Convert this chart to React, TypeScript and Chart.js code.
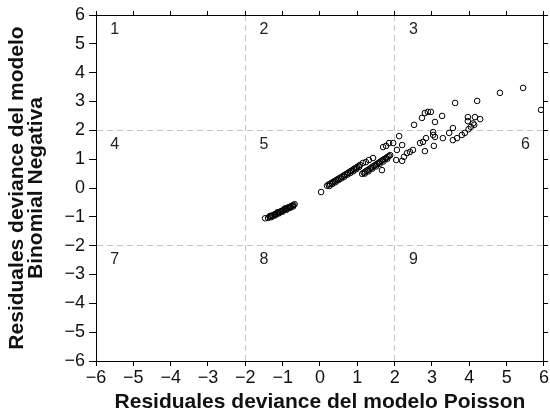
import React, { useEffect, useRef } from "react";
import { Chart, registerables } from "chart.js";

Chart.register(...registerables);

// Cluster of negative residuals
const clusterA: [number, number][] = [
  [-1.47, -1.05], [-1.39, -1.04], [-1.35, -1.0], [-1.31, -0.98], [-1.28, -0.95],
  [-1.25, -0.95], [-1.22, -0.92], [-1.19, -0.9], [-1.16, -0.89], [-1.13, -0.86],
  [-1.1, -0.85], [-1.07, -0.83], [-1.04, -0.8], [-1.01, -0.79], [-0.98, -0.77],
  [-0.95, -0.74], [-0.92, -0.73], [-0.89, -0.71], [-0.86, -0.68], [-0.83, -0.67],
  [-0.8, -0.65], [-0.77, -0.63], [-0.74, -0.61], [-0.71, -0.59], [-0.68, -0.56],
  [-1.3, -1.01], [-1.2, -0.95], [-1.1, -0.88], [-1.0, -0.82], [-0.9, -0.76],
  [-0.8, -0.69], [-0.72, -0.64], [-1.34, -0.97], [-1.14, -0.84], [-0.94, -0.71],
];

// Upper line of small positive residuals
const clusterB: [number, number][] = [
  [0.03, -0.14], [0.19, 0.08], [0.23, 0.12], [0.27, 0.14], [0.31, 0.18], [0.35, 0.2],
  [0.39, 0.24], [0.43, 0.27], [0.47, 0.3], [0.51, 0.33], [0.55, 0.36], [0.59, 0.39],
  [0.63, 0.43], [0.67, 0.46], [0.71, 0.49], [0.75, 0.52], [0.79, 0.56], [0.83, 0.59],
  [0.87, 0.62], [0.91, 0.66], [0.95, 0.69], [0.99, 0.72], [1.03, 0.76], [1.07, 0.8],
  [0.25, 0.07], [0.33, 0.14], [0.41, 0.2], [0.49, 0.27], [0.57, 0.33], [0.65, 0.39],
  [0.73, 0.46], [0.81, 0.52], [0.89, 0.58], [0.97, 0.65], [1.05, 0.73],
  [1.15, 0.87], [1.23, 0.9], [1.31, 0.97], [1.42, 1.04],
];

// Lower parallel line
const clusterC: [number, number][] = [
  [1.13, 0.49], [1.17, 0.53], [1.21, 0.56], [1.25, 0.6], [1.29, 0.63], [1.33, 0.67],
  [1.37, 0.7], [1.41, 0.74], [1.45, 0.77], [1.49, 0.8], [1.53, 0.84], [1.57, 0.87],
  [1.61, 0.91], [1.65, 0.94], [1.69, 0.98], [1.73, 1.01], [1.77, 1.04], [1.81, 1.08],
  [1.85, 1.11], [1.88, 1.14], [1.2, 0.5], [1.3, 0.58], [1.4, 0.67], [1.5, 0.75],
  [1.6, 0.84], [1.7, 0.92], [1.8, 1.01], [1.66, 0.62],
];

// Scattered larger residuals
const scatterD: [number, number][] = [
  [1.69, 1.42], [1.77, 1.46], [1.85, 1.56], [1.96, 1.56], [2.12, 1.8], [2.06, 1.32],
  [2.2, 1.49], [2.04, 0.97], [2.2, 0.94], [2.25, 1.08], [2.33, 1.21], [2.41, 1.25],
  [2.49, 1.32], [2.52, 2.19], [2.68, 1.56], [2.76, 1.6], [2.73, 2.43], [2.81, 2.6],
  [2.89, 2.64], [2.97, 2.64], [2.81, 1.28], [2.84, 1.73], [3.03, 1.94], [3.03, 1.84],
  [3.08, 1.77], [3.08, 2.29], [3.05, 1.46], [3.27, 2.5], [3.29, 1.73], [3.46, 1.91],
  [3.56, 1.66], [3.56, 2.08], [3.62, 2.95], [3.67, 1.73], [3.8, 1.84], [3.88, 1.91],
  [3.96, 2.46], [3.96, 2.32], [4.04, 2.12], [4.13, 2.19], [4.15, 2.46], [4.29, 2.39],
  [4.21, 3.02], [4.82, 3.3], [5.44, 3.47], [5.92, 2.71], [3.98, 2.04], [4.1, 2.24],
];

const axisTicks = [-6, -5, -4, -3, -2, -1, 0, 1, 2, 3, 4, 5, 6];
const cutLines = [-2, 2];

const quadrantLabels = ["1", "2", "3", "4", "5", "6", "7", "8", "9"];
const quadrantX = [-5.5, -1.5, 2.5, -5.5, -1.5, 5.5, -5.5, -1.5, 2.5];
const quadrantY = [5.5, 5.5, 5.5, 1.5, 1.5, 1.5, -2.5, -2.5, -2.5];

const xTitle = "Residuales deviance del modelo Poisson";
const yTitle = ["Residuales deviance del modelo", "Binomial Negativa"];

const FONT = "'Liberation Sans', Arial, Helvetica, sans-serif";

const fmt = (v: number | string) => {
  const n = Number(v);
  return n < 0 ? "\u2212" + Math.abs(n) : String(n);
};

const gridColor = (ctx: any) =>
  ctx.tick && cutLines.includes(ctx.tick.value) ? "#c4c4c4" : "rgba(0,0,0,0)";

const quadrantPlugin = {
  id: "quadrantLabels",
  afterDatasetsDraw(chart: any) {
    const { ctx, scales } = chart;
    ctx.save();
    ctx.font = `16px ${FONT}`;
    ctx.fillStyle = "#222";
    ctx.textAlign = "center";
    ctx.textBaseline = "middle";
    quadrantLabels.forEach((t, i) => {
      ctx.fillText(
        t,
        scales.x.getPixelForValue(quadrantX[i]),
        scales.y.getPixelForValue(quadrantY[i])
      );
    });
    ctx.restore();
  },
};

export default function App() {
  const ref = useRef<HTMLCanvasElement | null>(null);

  useEffect(() => {
    if (!ref.current) return;
    const allPoints = [...clusterA, ...clusterB, ...clusterC, ...scatterD];
    const chart = new Chart(ref.current, {
      type: "scatter",
      data: {
        datasets: [
          {
            data: allPoints.map(([x, y]) => ({ x, y })),
            xAxisID: "x",
            yAxisID: "y",
            pointRadius: 2.8,
            pointBorderWidth: 1,
            pointBorderColor: "#000",
            pointBackgroundColor: "rgba(0,0,0,0)",
            pointHoverRadius: 2.8,
          },
        ],
      },
      options: {
        animation: false,
        responsive: false,
        events: [],
        layout: { padding: 0, autoPadding: false },
        plugins: {
          legend: { display: false },
          tooltip: { enabled: false },
          title: { display: false },
        },
        scales: {
          x: {
            type: "linear",
            position: "bottom",
            min: -6,
            max: 6,
            afterBuildTicks: (s: any) => {
              s.ticks = axisTicks.map((v) => ({ value: v }));
            },
            afterFit: (s: any) => {
              s.height = 58;
            },
            ticks: {
              callback: fmt,
              font: { size: 18, family: FONT },
              color: "#111",
              padding: 1,
              maxRotation: 0,
              autoSkip: false,
            },
            grid: {
              color: gridColor,
              lineWidth: 1,
              tickColor: "#000",
              tickLength: 5,
              tickWidth: 1,
            },
            border: { display: true, color: "#000", width: 1, dash: [6, 4] },
            title: {
              display: true,
              text: xTitle,
              font: { size: 21, weight: "bold", family: FONT, lineHeight: 1 },
              color: "#111",
              padding: { top: 0, bottom: 6 },
            },
          },
          x2: {
            type: "linear",
            position: "top",
            min: -6,
            max: 6,
            afterBuildTicks: (s: any) => {
              s.ticks = axisTicks.map((v) => ({ value: v }));
            },
            afterFit: (s: any) => {
              s.height = 15;
            },
            ticks: { display: false },
            grid: {
              drawOnChartArea: false,
              color: "#000",
              tickColor: "#000",
              tickLength: 4,
            },
            border: { display: true, color: "#000", width: 1 },
          },
          y: {
            type: "linear",
            position: "left",
            min: -6,
            max: 6,
            afterBuildTicks: (s: any) => {
              s.ticks = axisTicks.map((v) => ({ value: v }));
            },
            afterFit: (s: any) => {
              s.width = 96;
            },
            ticks: {
              callback: fmt,
              font: { size: 18, family: FONT },
              color: "#111",
              padding: 4,
              autoSkip: false,
            },
            grid: {
              color: gridColor,
              lineWidth: 1,
              tickColor: "#000",
              tickLength: 7,
              tickWidth: 1,
            },
            border: { display: true, color: "#000", width: 1, dash: [6, 4] },
            title: {
              display: true,
              text: yTitle,
              font: { size: 21, weight: "bold", family: FONT, lineHeight: 0.9 },
              color: "#111",
              padding: { top: 8, bottom: 0 },
            },
          },
          y2: {
            type: "linear",
            position: "right",
            min: -6,
            max: 6,
            afterBuildTicks: (s: any) => {
              s.ticks = axisTicks.map((v) => ({ value: v }));
            },
            afterFit: (s: any) => {
              s.width = 6;
            },
            ticks: { display: false },
            grid: {
              drawOnChartArea: false,
              color: "#000",
              tickColor: "#000",
              tickLength: 4,
            },
            border: { display: true, color: "#000", width: 1 },
          },
        },
      } as any,
      plugins: [quadrantPlugin],
    });
    return () => chart.destroy();
  }, []);

  return (
    <div style={{ position: "absolute", left: 0, top: 0, width: 550, height: 419, background: "#fff" }}>
      <canvas ref={ref} width={550} height={419} style={{ width: 550, height: 419, display: "block" }} />
    </div>
  );
}
